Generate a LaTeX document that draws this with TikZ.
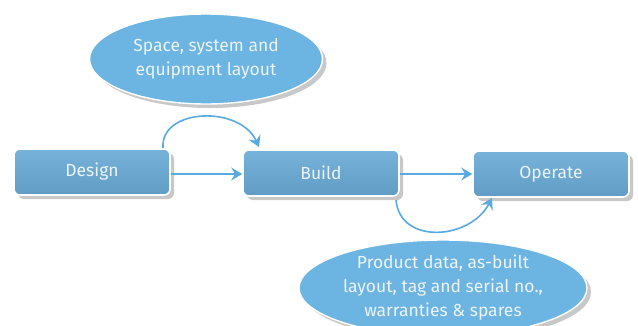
\documentclass[tikz,border=0pt]{standalone}
\usepackage{fontspec}
\setmainfont{Fira Sans}
\usetikzlibrary{shadows,arrows.meta,shapes.geometric}
\definecolor{pfeil}{RGB}{88,170,225}
\definecolor{boxtop}{RGB}{118,178,218}
\definecolor{boxbot}{RGB}{96,156,196}
\definecolor{blase}{RGB}{108,180,226}
\definecolor{schrift}{RGB}{236,244,250}

\tikzset{
	stage/.style={rectangle, rounded corners=6pt, draw=white, line width=1.6pt,
		top color=boxtop, bottom color=boxbot, minimum width=156pt, minimum height=46pt,
		text=schrift, font=\fontsize{17.5}{20}\selectfont,
		drop shadow={shadow xshift=4pt, shadow yshift=-4pt, opacity=0.3, fill=black!70}},
	bubble/.style={ellipse, draw=white, line width=1.4pt, fill=blase, inner sep=0pt,
		text=schrift, align=center, font=\fontsize{17.5}{24}\selectfont,
		drop shadow={shadow xshift=4pt, shadow yshift=-4pt, opacity=0.3, fill=black!70}},
	flow/.style={pfeil, line width=1.6pt, -{Stealth[length=11pt, width=13pt, inset=4pt]}}
}

\begin{document}
\begin{tikzpicture}[x=1pt, y=-1pt]
	\useasboundingbox[fill=white] (0,0) rectangle (638,325);

	% Blasen
	\node[bubble, minimum width=233pt, minimum height=90pt] (B1) at (206,59) {Space, system and\\equipment layout};
	\node[bubble, minimum width=288pt, minimum height=96pt] (B2) at (443,288) {Product data, as-built\\layout, tag and serial no.,\\warranties \& spares};

	% Stufen
	\node[stage] (D) at (92,172) {Design};
	\node[stage] (B) at (321,173) {Build};
	\node[stage] (O) at (551,174) {Operate};

	\draw[flow] (D.east |- 0,174) -- (B.west |- 0,174);
	\draw[flow] (B.east |- 0,174) -- (O.west |- 0,174);

	% Bögen
	\coordinate (a1) at (163,148);
	\coordinate (a2) at (259,147);
	\draw[flow] (a1) .. controls (160,108) and (240,105) .. (a2);

	\coordinate (b1) at (396,200);
	\coordinate (b2) at (492,198);
	\draw[flow] (b1) .. controls (400,245) and (470,240) .. (b2);
\end{tikzpicture}
\end{document}
